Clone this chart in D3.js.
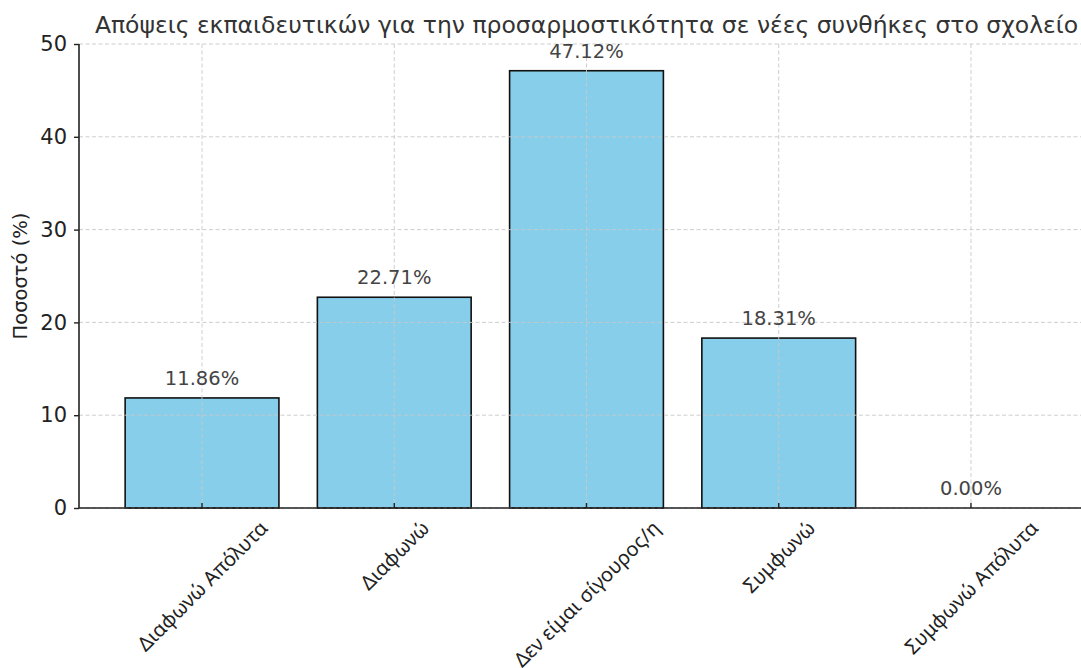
<!DOCTYPE html>
<html>
<head>
<meta charset="utf-8">
<script src="https://cdn.jsdelivr.net/npm/d3@7"></script>
<style>
  body { margin: 0; background: #fff; }
  svg text { fill: #333; }
</style>
</head>
<body>
<svg id="chart" width="1081" height="668"></svg>
<script>
const categories = ["Διαφωνώ Απόλυτα", "Διαφωνώ", "Δεν είμαι σίγουρος/η", "Συμφωνώ", "Συμφωνώ Απόλυτα"];
const values = [11.86, 22.71, 47.12, 18.31, 0.00];
const yTicks = [0, 10, 20, 30, 40, 50];
const title = "Απόψεις εκπαιδευτικών για την προσαρμοστικότητα σε νέες συνθήκες στο σχολείο";
const yLabel = "Ποσοστό (%)";

const svg = d3.select("#chart");
const plotL = 79, plotR = 1094, plotT = 44, plotB = 508;

// bar positions in index units, with margins around the bars
const x = d3.scaleLinear().domain([-0.64, 4.64]).range([plotL, plotR]);
const y = d3.scaleLinear().domain([0, 50]).range([plotB, plotT]);
const barW = x(0.8) - x(0);

// bars
svg.append("g").selectAll("rect").data(values).join("rect")
  .attr("x", (d, i) => x(i - 0.4))
  .attr("y", d => y(d))
  .attr("width", barW)
  .attr("height", d => y(0) - y(d))
  .attr("fill", "#87ceeb")
  .attr("stroke", "#111")
  .attr("stroke-width", 1.6);

// dashed grid on top of bars
const grid = svg.append("g").attr("stroke", "#c8c8c8").attr("stroke-width", 0.9)
  .attr("stroke-dasharray", "4,2.5");
grid.selectAll("line.h").data(yTicks).join("line").attr("class", "h")
  .attr("x1", plotL).attr("x2", plotR).attr("y1", d => y(d)).attr("y2", d => y(d));
grid.selectAll("line.v").data(categories).join("line").attr("class", "v")
  .attr("x1", (d, i) => x(i)).attr("x2", (d, i) => x(i)).attr("y1", plotT).attr("y2", plotB);

// value labels
svg.append("g").selectAll("text").data(values).join("text")
  .attr("x", (d, i) => x(i))
  .attr("y", d => y(d) - 13)
  .attr("text-anchor", "middle")
  .attr("font-family", "DejaVu Sans")
  .attr("font-size", 19.5)
  .style("fill", "#444")
  .text(d => d.toFixed(2) + "%");

// y axis
const yAxis = svg.append("g").attr("transform", `translate(${plotL},0)`)
  .call(d3.axisLeft(y).tickValues(yTicks).tickSize(5).tickPadding(7));
yAxis.select(".domain").attr("stroke", "#222").attr("stroke-width", 1.6).attr("d", `M0,${plotB}V${plotT}`);
yAxis.selectAll(".tick line").attr("stroke", "#222").attr("stroke-width", 1.4);
yAxis.selectAll(".tick text").attr("font-family", "DejaVu Sans").attr("font-size", 21).style("fill", "#222");

// x axis baseline and inner ticks
svg.append("line").attr("x1", plotL).attr("x2", 1081).attr("y1", plotB).attr("y2", plotB)
  .attr("stroke", "#222").attr("stroke-width", 1.6);
svg.append("g").selectAll("line").data(categories).join("line")
  .attr("x1", (d, i) => x(i)).attr("x2", (d, i) => x(i))
  .attr("y1", plotB).attr("y2", plotB - 5)
  .attr("stroke", "#222").attr("stroke-width", 1.4);

// rotated category labels, bounding box centred under each tick
const labelSize = 20;
const xl = svg.append("g").selectAll("text").data(categories).join("text")
  .attr("font-family", "Noto Sans")
  .attr("font-size", labelSize)
  .attr("text-anchor", "middle")
  .attr("dominant-baseline", "central")
  .style("fill", "#222")
  .text(d => d);
xl.each(function(d, i) {
  const L = this.getComputedTextLength();
  const cy = 517 + (L + labelSize) * Math.SQRT1_2 / 2;
  d3.select(this).attr("transform", `translate(${x(i)},${cy}) rotate(-45)`);
});

// y label
svg.append("text")
  .attr("transform", `translate(20,${(plotT + plotB) / 2}) rotate(-90)`)
  .attr("text-anchor", "middle")
  .attr("dominant-baseline", "central")
  .attr("font-family", "DejaVu Sans")
  .attr("font-size", 19.5)
  .style("fill", "#222")
  .text(yLabel);

// title
svg.append("text")
  .attr("x", (plotL + plotR) / 2)
  .attr("y", 33)
  .attr("text-anchor", "middle")
  .attr("font-family", "DejaVu Sans")
  .attr("font-size", 23.5)
  .text(title);
</script>
</body>
</html>
